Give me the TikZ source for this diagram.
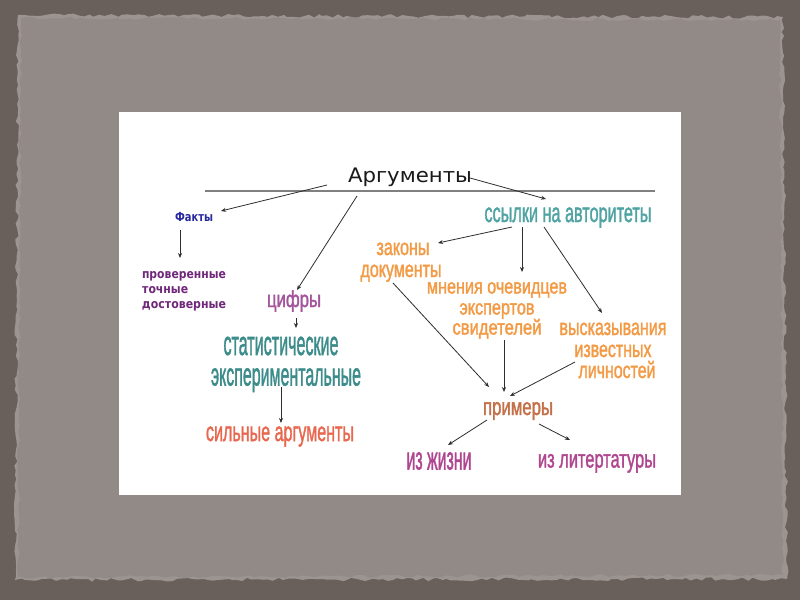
\documentclass[tikz,border=0pt]{standalone}
\usepackage{fontspec}
\usepackage{graphicx}
\usetikzlibrary{arrows.meta,calc,decorations.pathmorphing}
\newfontfamily\wafont[FakeBold=1.8]{Liberation Sans}
\newfontfamily\titlefont{DejaVu Sans}
\newfontfamily\smallfont{DejaVu Sans}
\definecolor{outerbg}{HTML}{6A605B}
\definecolor{rimbg}{HTML}{9B9491}
\definecolor{panelbg}{HTML}{918A87}
\definecolor{cteal}{HTML}{3B8C8A}
\definecolor{cteall}{HTML}{4FA3A3}
\definecolor{cmauve}{HTML}{A4569C}
\definecolor{ccoral}{HTML}{E8674F}
\definecolor{corange}{HTML}{F39A45}
\definecolor{cbrown}{HTML}{C47048}
\definecolor{cmagenta}{HTML}{B0468F}
\definecolor{cblue}{HTML}{2828A0}
\definecolor{cpurple}{HTML}{70287A}
\definecolor{cline}{HTML}{2E2E2E}
% width (pt), font size (pt), text
\newcommand\watxt[3]{\resizebox{#1pt}{\height}{\wafont\fontsize{#2}{#2}\selectfont #3}}
\newcommand\smtxt[3]{\resizebox{#1pt}{\height}{\smallfont\bfseries\fontsize{#2}{#2}\selectfont #3}}
\tikzset{
  lbl/.style={inner sep=0pt, text height=#1pt, text depth=0pt, anchor=center},
  conn/.style={draw=cline, line width=0.8pt, -{Stealth[length=5pt,width=4pt]}},
}
\begin{document}
\begin{tikzpicture}[x=1pt,y=-1pt]
\useasboundingbox (0,0) rectangle (800,600);
% background
\fill[outerbg] (0,0) rectangle (800,600);
\pgfmathsetseed{11}
\fill[rimbg, decorate, decoration={random steps, segment length=5pt, amplitude=1.8pt}]
  (18,15) -- (783,17) -- (787,579) -- (15,580) -- cycle;
\fill[panelbg, decorate, decoration={random steps, segment length=6pt, amplitude=1.5pt}]
  (21,18) -- (780,20) -- (783,575) -- (18,577) -- cycle;
\fill[white] (119,112) rectangle (681,495);

% title and rule
\node[lbl=14, text=black!90] (arg) at (410,175) {\resizebox{124pt}{\height}{\titlefont\fontsize{20}{20}\selectfont Аргументы}};
\draw[draw=black!50, line width=1.3pt] (205,191) -- (655,191);

% left branch
\node[lbl=9, text=cblue] (fakty) at (194,217) {\smtxt{38}{12.5}{Факты}};
\node[lbl=7, text=cpurple] (p1) at (184,275) {\smtxt{84}{12.5}{проверенные}};
\node[lbl=7, text=cpurple, anchor=west] (p2) at (142,290) {\smtxt{46}{12.5}{точные}};
\node[lbl=7, text=cpurple] (p3) at (184,305) {\smtxt{84}{12.5}{достоверные}};

% middle branch
\node[lbl=12, text=cmauve] (cifry) at (294,301) {\watxt{54}{23}{цифры}};
\node[lbl=18, text=cteal] (stat1) at (281,346) {\watxt{115}{34}{статистические}};
\node[lbl=17, text=cteal] (stat2) at (286,377) {\watxt{150}{32}{экспериментальные}};
\node[lbl=14, text=ccoral] (silnye) at (280,434) {\watxt{148}{27}{сильные аргументы}};

% right branch
\node[lbl=14, text=cteall] (ssylki) at (568,215) {\watxt{167}{27}{ссылки на авторитеты}};
\node[lbl=12, text=corange] (zakony) at (403,249) {\watxt{53}{23}{законы}};
\node[lbl=12, text=corange] (dokum) at (401,271) {\watxt{81}{23}{документы}};
\node[lbl=11, text=corange] (mn1) at (497,288) {\watxt{140}{21}{мнения очевидцев}};
\node[lbl=11, text=corange] (mn2) at (497,309) {\watxt{75}{21}{экспертов}};
\node[lbl=11, text=corange] (mn3) at (497,329) {\watxt{89}{21}{свидетелей}};
\node[lbl=12, text=corange] (vy1) at (613,329) {\watxt{107}{23}{высказывания}};
\node[lbl=12, text=corange] (vy2) at (613,351) {\watxt{77}{23}{известных}};
\node[lbl=12, text=corange] (vy3) at (617,372) {\watxt{77}{23}{личностей}};
\node[lbl=12, text=cbrown] (primery) at (518,409) {\watxt{70}{24}{примеры}};
\node[lbl=17, text=cmagenta] (zhizn) at (439,461) {\watxt{65}{32}{из жизни}};
\node[lbl=13, text=cmagenta] (lit) at (597,461) {\watxt{118}{25}{из литертатуры}};

% connectors
\draw[conn] ($(arg)+(-83,10)$) -- ($(fakty)+(27,-6)$);
\draw[conn] ($(fakty)+(-14,13)$) -- ($(p1)+(-4,-17)$);
\draw[conn] ($(arg)+(-53,21)$) -- ($(cifry)+(3,-11)$);
\draw[conn] ($(cifry)+(2,17)$) -- ($(stat1)+(15,-18)$);
\draw[conn] ($(stat2)+(-5,10)$) -- ($(silnye)+(1,-11)$);
\draw[conn] ($(arg)+(60,3)$) -- ($(ssylki)+(-22,-16)$);
\draw[conn] ($(ssylki)+(-56,12)$) -- ($(zakony)+(35,-6)$);
\draw[conn] ($(ssylki)+(-46,12)$) -- ($(mn1)+(25,-16)$);
\draw[conn] ($(ssylki)+(-24,12)$) -- ($(vy1)+(-11,-16)$);
\draw[conn] ($(dokum)+(-8,12)$) -- ($(primery)+(-29,-22)$);
\draw[conn] ($(mn3)+(7,11)$) -- ($(primery)+(-14,-17)$);
\draw[conn] ($(vy3)+(-42,-10)$) -- ($(primery)+(-8,-13)$);
\draw[conn] ($(primery)+(-31,11)$) -- ($(zhizn)+(9,-16)$);
\draw[conn] ($(primery)+(21,15)$) -- ($(lit)+(-27,-21)$);
\end{tikzpicture}
\end{document}
